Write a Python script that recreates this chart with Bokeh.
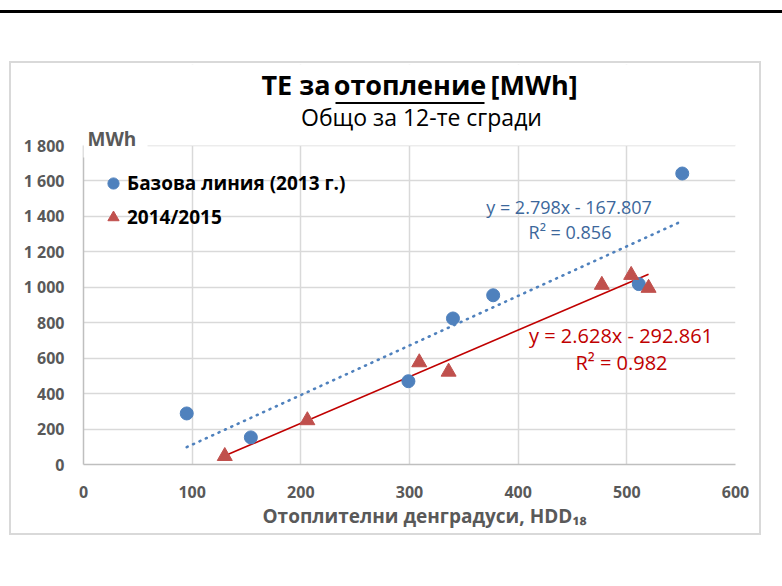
from bokeh.plotting import figure
from bokeh.layouts import column
from bokeh.models import (Range1d, FixedTicker, Label, BoxAnnotation, Legend,
                          LegendItem, Title, Div)
from bokeh.embed import file_html
from bokeh.resources import INLINE

# ---------------- data ----------------
base_hdd = [95, 154, 299, 340, 377, 511, 551]
base_mwh = [288, 153, 470, 824, 955, 1018, 1642]
new_hdd = [130, 206, 309, 336, 477, 504, 520]
new_mwh = [47, 249, 576, 523, 1013, 1069, 996]

base_slope, base_icpt = 2.798, -167.807
new_slope, new_icpt = 2.628, -292.861
base_r2 = "0.856"
new_r2 = "0.982"

series_names = ["Базова линия (2013 г.)", "2014/2015"]
title_parts = ["ТЕ за", "отопление", "[MWh]"]
subtitle = "Общо за 12-те сгради"
x_title = "Отоплителни денградуси, HDD₁₈"
y_unit = "MWh"

x_ticks = [0, 100, 200, 300, 400, 500, 600]
y_ticks = [0, 200, 400, 600, 800, 1000, 1200, 1400, 1600, 1800]
y_tick_labels = ["0", "200", "400", "600", "800", "1 000", "1 200", "1 400", "1 600", "1 800"]
y_max_tick = 1800

BLUE = "#4F81BD"
BLUE_TXT = "#3C679B"
RED = "#C0504D"
RED_LINE = "#C00000"
GRAY = "#595959"
FONT = "Open Sans"

# plot area 652 x 319 px for 0..600 / 0..1800; frame extended upward to hold the titles
FRAME_H = 400
y_top = y_max_tick * FRAME_H / 319.0

p = figure(width=752, height=474, output_backend="svg", toolbar_location=None,
           x_range=Range1d(0, 600), y_range=Range1d(0, y_top),
           min_border_left=72, min_border_right=28, min_border_top=1,
           min_border_bottom=73)
p.margin = (0, 0, 0, 9)
p.styles = {"border": "2px solid #D9D9D9"}
p.outline_line_color = None
p.background_fill_color = "white"
p.border_fill_color = "white"

p.xaxis.ticker = FixedTicker(ticks=x_ticks)
p.yaxis.ticker = FixedTicker(ticks=y_ticks)
p.yaxis.major_label_overrides = {t: l for t, l in zip(y_ticks, y_tick_labels)}
p.yaxis.bounds = (0, y_max_tick)
for ax in (p.xaxis, p.yaxis):
    ax.major_tick_line_color = None
    ax.minor_tick_line_color = None
    ax.major_tick_out = 0
    ax.major_tick_in = 0
    ax.axis_line_color = "#BFBFBF"
    ax.axis_line_width = 1.5
    ax.major_label_text_font = FONT
    ax.major_label_text_font_style = "bold"
    ax.major_label_text_font_size = "16px"
    ax.major_label_text_color = GRAY
p.yaxis.major_label_standoff = 19
p.xaxis.major_label_standoff = 21
p.xgrid.grid_line_color = "#D9D9D9"
p.ygrid.grid_line_color = "#D9D9D9"
p.xgrid.grid_line_width = 1.5
p.ygrid.grid_line_width = 1.5
p.xgrid.ticker = FixedTicker(ticks=x_ticks)
p.ygrid.ticker = FixedTicker(ticks=y_ticks)

p.add_layout(Title(text=x_title, align="left", offset=179, standoff=0,
                   text_font=FONT, text_font_size="19px", text_font_style="bold",
                   text_color=GRAY), "below")

def box(l, r, b, t, **kw):
    p.add_layout(BoxAnnotation(left=l, right=r, bottom=b, top=t,
                               left_units="screen", right_units="screen",
                               bottom_units="screen", top_units="screen", **kw))

# white cover above the plot area (title zone)
p.add_layout(BoxAnnotation(bottom=y_max_tick, fill_color="white", fill_alpha=1,
                           line_alpha=0, level="underlay"))

# trendlines
bx = [min(base_hdd), max(base_hdd)]
by = [base_slope * v + base_icpt for v in bx]
nx = [min(new_hdd), max(new_hdd)]
ny = [new_slope * v + new_icpt for v in nx]
p.line(bx, by, line_color=BLUE, line_width=2.6, line_dash="1 6", line_cap="round")
p.line(nx, ny, line_color=RED_LINE, line_width=1.6)

r1 = p.scatter(base_hdd, base_mwh, marker="circle", size=13, fill_color=BLUE, line_color=BLUE)
r2 = p.scatter(new_hdd, new_mwh, marker="triangle", size=15, fill_color=RED, line_color=RED)

legend = Legend(items=[LegendItem(label=series_names[0], renderers=[r1]),
                       LegendItem(label=series_names[1], renderers=[r2])],
                location=(16, 231), padding=0, margin=0, spacing=2,
                glyph_width=28, glyph_height=32, label_height=32, label_standoff=0,
                border_line_color=None, background_fill_alpha=0,
                label_text_font=FONT, label_text_font_style="bold",
                label_text_font_size="19px", label_text_color="black")
p.add_layout(legend)

def lab(text, x, y, size, color, align="left", style="normal"):
    px = float(size.replace("px", ""))
    p.add_layout(Label(x=x, y=y + 0.42 * px, x_units="screen", y_units="screen", text=text,
                       text_font=FONT, text_font_size=size, text_color=color,
                       text_align=align, text_baseline="alphabetic",
                       text_font_style=style))

# title
lab(title_parts[0], 247, 369, "27px", "black", "right", "bold")
lab(title_parts[1], 326.5, 369, "27px", "black", "center", "bold")
lab(title_parts[2], 407, 369, "27px", "black", "left", "bold")
box(252, 401, 360.5, 362.5, fill_color="black", fill_alpha=1, line_alpha=0)
lab(subtitle, 338, 338, "23px", "black", "center")

# unit label with white backing over the top of the axis
box(-5, 64, 307, 334, fill_color="white", fill_alpha=1, line_alpha=0)
lab(y_unit, 4, 317.5, "19px", GRAY, "left", "bold")

# trendline equations
lab(f"y = {base_slope}x - {abs(base_icpt)}", 485.5, 250, "18px", BLUE_TXT, "center")
lab(f"R² = {base_r2}", 486.5, 224.7, "18px", BLUE_TXT, "center")
lab(f"y = {new_slope}x - {abs(new_icpt)}", 537.5, 120.7, "20px", RED_LINE, "center")
lab(f"R² = {new_r2}", 538, 93.3, "20px", RED_LINE, "center")

rule = Div(text='<div style="margin-top:10px;border-top:3px solid #000;width:782px;height:0"></div>',
           width=782, height=61, margin=0)

layout = column(rule, p, spacing=0, margin=0)
open("out.html", "w").write(file_html(layout, INLINE))
